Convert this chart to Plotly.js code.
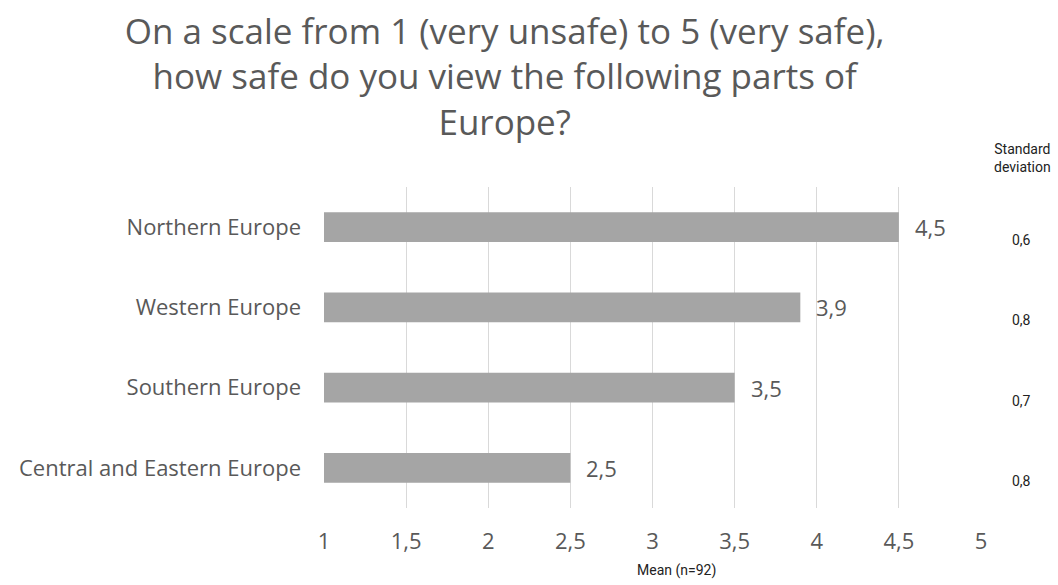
<!DOCTYPE html>
<html>
<head>
<meta charset="utf-8">
<script src="https://cdn.plot.ly/plotly-3.0.1.min.js"></script>
<style>html,body{margin:0;padding:0;background:#fff;}#chart{width:1058px;height:585px;}</style>
</head>
<body>
<div id="chart"></div>
<script>
const categories = ["Northern Europe", "Western Europe", "Southern Europe", "Central and Eastern Europe"];
const means = [4.5, 3.9, 3.5, 2.5];
const stdDevs = [0.6, 0.8, 0.7, 0.8];
const tickValues = [1, 1.5, 2, 2.5, 3, 3.5, 4, 4.5, 5];

const fmt = v => v.toFixed(1).replace('.', ',');
const textColor = '#595959';
const font = 'Open Sans, Liberation Sans, sans-serif';
const smallFont = 'Roboto, Inter, sans-serif';

const trace = {
  type: 'bar',
  orientation: 'h',
  y: categories,
  x: means,
  base: 0,
  marker: {color: '#a5a5a5'},
  width: 0.37,
  hoverinfo: 'x+y'
};

const annotations = [];
categories.forEach((c, i) => {
  annotations.push({
    x: means[i], y: c, xref: 'x', yref: 'y',
    text: fmt(means[i]), showarrow: false,
    xanchor: 'left', xshift: 14,
    font: {family: font, size: 22, color: textColor}
  });
  annotations.push({
    x: 1.061, y: c, xref: 'paper', yref: 'y',
    text: fmt(stdDevs[i]), showarrow: false,
    xanchor: 'center', yshift: -13,
    font: {family: smallFont, size: 14, color: '#222'}
  });
});
annotations.push({
  x: 1.063, y: 1.03, xref: 'paper', yref: 'paper',
  text: 'Standard<br>deviation', showarrow: false,
  xanchor: 'center', yanchor: 'bottom',
  font: {family: smallFont, size: 14, color: '#222'}
});
annotations.push({
  x: 0.537, y: -0.195, xref: 'paper', yref: 'paper',
  text: 'Mean (n=92)', showarrow: false,
  xanchor: 'center', yanchor: 'middle',
  font: {family: smallFont, size: 14, color: '#222'}
});

const layout = {
  width: 1058, height: 585,
  paper_bgcolor: '#fff', plot_bgcolor: '#fff',
  separators: ', ',
  margin: {l: 324, r: 77, t: 187, b: 77},
  title: {
    text: 'On a scale from 1 (very unsafe) to 5 (very safe),<br>how safe do you view the following parts of<br>Europe?',
    x: 0.477, xanchor: 'center', y: 0.925, yanchor: 'top',
    font: {family: font, size: 35, color: textColor}
  },
  xaxis: {
    range: [1, 5], tickvals: tickValues,
    ticktext: tickValues.map(v => String(v).replace('.', ',')),
    showgrid: true, gridcolor: '#d9d9d9', gridwidth: 1,
    zeroline: false, showline: false,
    tickfont: {family: font, size: 22, color: textColor},
    ticklabelstandoff: 18,
    fixedrange: true
  },
  yaxis: {
    autorange: 'reversed',
    showgrid: false, zeroline: false, showline: false,
    tickfont: {family: font, size: 22, color: textColor},
    ticklabelstandoff: 22,
    fixedrange: true
  },
  showlegend: false,
  annotations: annotations
};

Plotly.newPlot('chart', [trace], layout, {displayModeBar: false, staticPlot: true});
</script>
</body>
</html>
